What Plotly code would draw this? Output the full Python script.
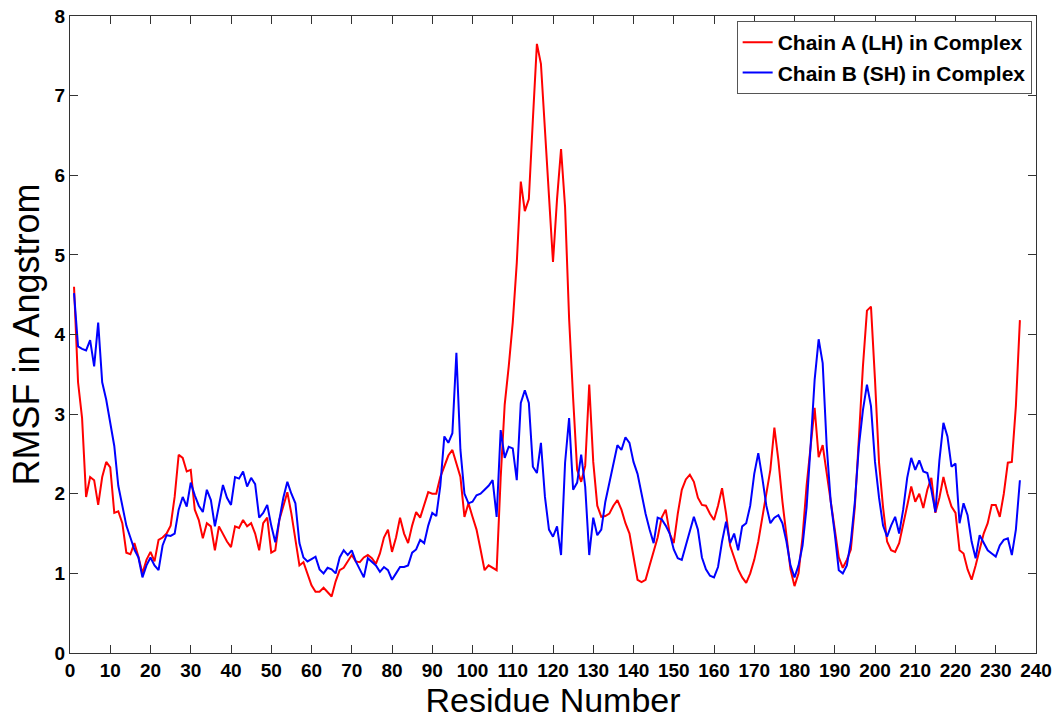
import plotly.graph_objects as go

# residue numbers 1..236
residues = list(range(1, 237))

# RMSF of chain A (LH) in complex, Angstrom
chain_a = [
    4.6, 3.4, 2.95, 1.96, 2.21, 2.17, 1.86, 2.21, 2.4, 2.33,
    1.76, 1.78, 1.63, 1.26, 1.24, 1.38, 1.21, 1.0, 1.17, 1.27,
    1.15, 1.42, 1.45, 1.5, 1.6, 1.96, 2.49, 2.45, 2.28, 2.3,
    1.8, 1.67, 1.44, 1.63, 1.59, 1.29, 1.59, 1.5, 1.4, 1.33,
    1.59, 1.57, 1.67, 1.59, 1.63, 1.5, 1.29, 1.63, 1.7, 1.26,
    1.29, 1.67, 1.85, 2.02, 1.75, 1.45, 1.1, 1.14, 1.0, 0.85,
    0.77, 0.77, 0.82, 0.76, 0.71, 0.9, 1.04, 1.07, 1.15, 1.23,
    1.15, 1.14, 1.2, 1.23, 1.19, 1.12, 1.25, 1.45, 1.55, 1.27,
    1.45, 1.7, 1.5, 1.38, 1.6, 1.77, 1.7, 1.85, 2.02, 2.0,
    2.0, 2.21, 2.35, 2.48, 2.55, 2.38, 2.21, 1.71, 1.88, 1.71,
    1.55, 1.3, 1.04, 1.1, 1.07, 1.04, 2.2, 3.12, 3.6, 4.15,
    4.9, 5.92, 5.55, 5.7, 6.7, 7.65, 7.4, 6.6, 5.7, 4.91,
    5.7, 6.33, 5.6, 4.2, 3.2, 2.3, 2.15, 2.35, 3.37, 2.4,
    1.85, 1.71, 1.72, 1.75, 1.85, 1.92, 1.8, 1.63, 1.5, 1.2,
    0.92, 0.89, 0.92, 1.1, 1.26, 1.45, 1.7, 1.8, 1.5, 1.38,
    1.75, 2.05, 2.18, 2.24, 2.15, 1.95, 1.86, 1.85, 1.75, 1.67,
    1.85, 2.07, 1.75, 1.35, 1.2, 1.05, 0.95, 0.88, 1.0, 1.17,
    1.4, 1.7, 2.0, 2.3, 2.83, 2.42, 1.9, 1.5, 1.05, 0.84,
    1.0, 1.46, 2.1, 2.59, 3.08, 2.46, 2.61, 2.26, 1.9, 1.55,
    1.2, 1.07, 1.17, 1.3, 1.84, 2.7, 3.6, 4.3, 4.35, 3.43,
    2.39, 1.83, 1.4, 1.29, 1.27, 1.38, 1.6, 1.85, 2.09, 1.9,
    2.0, 1.82, 2.05, 2.2, 1.76, 1.95, 2.21, 2.0, 1.84, 1.76,
    1.29, 1.25, 1.05, 0.92, 1.1, 1.29, 1.5, 1.63, 1.86, 1.86,
    1.71, 2.0, 2.39, 2.4, 3.1, 4.18,
]

# RMSF of chain B (SH) in complex, Angstrom
chain_b = [
    4.52, 3.85, 3.82, 3.8, 3.93, 3.6, 4.15, 3.4, 3.18, 2.9,
    2.6, 2.1, 1.85, 1.6, 1.45, 1.3, 1.2, 0.95, 1.1, 1.2,
    1.1, 1.04, 1.35, 1.48, 1.47, 1.5, 1.8, 1.96, 1.84, 2.14,
    1.98, 1.85, 1.77, 2.05, 1.92, 1.59, 1.85, 2.11, 1.95, 1.86,
    2.21, 2.19, 2.28, 2.09, 2.2, 2.12, 1.7, 1.76, 1.86, 1.6,
    1.39, 1.67, 1.95, 2.15, 2.0, 1.88, 1.38, 1.2, 1.15, 1.18,
    1.21, 1.05, 1.0, 1.07, 1.05, 1.0, 1.2, 1.29, 1.23, 1.29,
    1.15, 1.05, 0.95, 1.19, 1.15, 1.1, 1.02, 1.08, 1.04, 0.92,
    1.0, 1.08, 1.08, 1.1, 1.26, 1.3, 1.42, 1.38, 1.6, 1.76,
    1.72, 2.1, 2.72, 2.64, 2.76, 3.77, 2.55, 2.0, 1.88, 1.9,
    1.98, 2.0, 2.05, 2.1, 2.17, 1.71, 2.8, 2.45, 2.59, 2.57,
    2.17, 3.14, 3.3, 3.14, 2.34, 2.26, 2.64, 1.96, 1.55, 1.46,
    1.59, 1.23, 2.39, 2.95, 2.05, 2.14, 2.49, 2.09, 1.23, 1.7,
    1.48, 1.55, 1.9, 2.15, 2.39, 2.61, 2.55, 2.71, 2.64, 2.4,
    2.25, 2.0, 1.75, 1.55, 1.38, 1.7, 1.68, 1.6, 1.5, 1.3,
    1.19, 1.17, 1.35, 1.55, 1.71, 1.55, 1.2, 1.05, 0.97, 0.95,
    1.08, 1.4, 1.65, 1.38, 1.5, 1.29, 1.59, 1.63, 1.85, 2.25,
    2.51, 2.2, 1.85, 1.63, 1.7, 1.73, 1.63, 1.4, 1.1, 0.95,
    1.1, 1.35, 1.83, 2.6, 3.43, 3.94, 3.64, 2.6, 1.9, 1.5,
    1.04, 1.0, 1.1, 1.4, 1.9, 2.6, 3.05, 3.37, 3.1, 2.4,
    1.95, 1.6, 1.46, 1.6, 1.71, 1.5, 1.8, 2.2, 2.45, 2.3,
    2.42, 2.28, 2.26, 2.05, 1.77, 2.42, 2.89, 2.72, 2.34, 2.38,
    1.63, 1.88, 1.73, 1.4, 1.19, 1.48, 1.38, 1.29, 1.25, 1.21,
    1.35, 1.42, 1.44, 1.23, 1.55, 2.17,
]

x_ticks = list(range(0, 241, 10))
y_ticks = list(range(0, 9))

fig = go.Figure()
fig.add_trace(go.Scatter(x=residues, y=chain_a, mode='lines',
                         name='Chain A (LH) in Complex',
                         line=dict(color='#ff0000', width=2)))
fig.add_trace(go.Scatter(x=residues, y=chain_b, mode='lines',
                         name='Chain B (SH) in Complex',
                         line=dict(color='#0000ff', width=2)))

axis_style = dict(showline=True, linecolor='#333333', linewidth=1, mirror='ticks',
                  ticks='inside', ticklen=8, tickcolor='#333333', tickwidth=1,
                  showgrid=False, zeroline=False, automargin=False,
                  ticklabeloverflow='allow',
                  tickfont=dict(family='Liberation Sans', size=19, color='black', weight='bold'))

fig.update_layout(
    width=1057, height=721,
    paper_bgcolor='white', plot_bgcolor='white',
    margin=dict(l=70, r=21, t=16, b=68),
    xaxis=dict(range=[0, 240], tickvals=x_ticks, **axis_style,
               title=dict(text='Residue Number', standoff=8,
                          font=dict(family='Liberation Sans', size=34, color='black'))),
    yaxis=dict(range=[0, 8], tickvals=y_ticks, **axis_style,
               title=dict(text='RMSF in Angstrom', standoff=4,
                          font=dict(family='Liberation Sans', size=36, color='black'))),
    legend=dict(x=0.9955, y=0.992, xanchor='right', yanchor='top',
                bgcolor='white', bordercolor='#555555', borderwidth=1,
                font=dict(family='Liberation Sans', size=21, color='black', weight='bold'),
                tracegroupgap=0),
    showlegend=True,
)

# drop the default body margin so the figure sits at the page corner
fig.write_html("out.html", config={'displayModeBar': False},
               post_script="document.body.style.margin='0';")
